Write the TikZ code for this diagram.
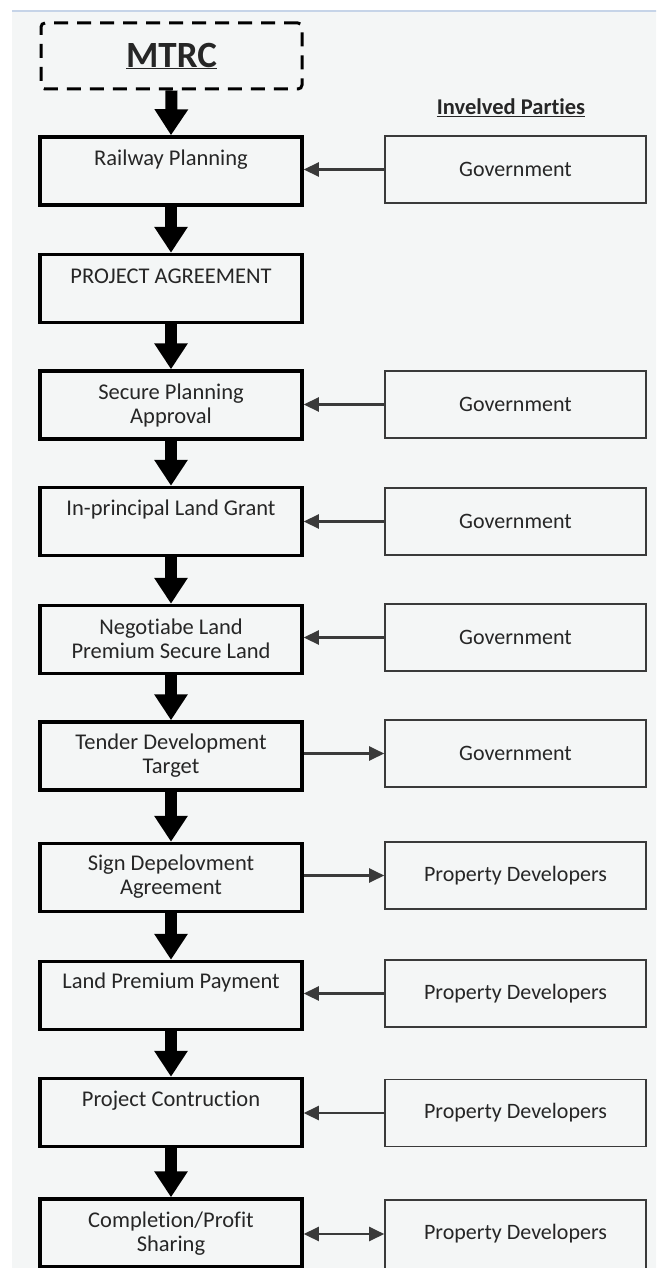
\documentclass[tikz,border=0pt]{standalone}
\usepackage{fontspec}
\setmainfont{Carlito}[Ligatures=NoCommon]
\usetikzlibrary{arrows.meta}
\definecolor{bgc}{HTML}{F4F6F6}
\definecolor{topline}{HTML}{C6D4E8}
\definecolor{txt}{HTML}{262626}
\definecolor{thin}{HTML}{3A3A3A}
\tikzset{
  stepbox/.style={draw=black, line width=3.5pt, minimum width=262pt, minimum height=68pt, inner sep=0pt, fill=bgc},
  partybox/.style={draw=thin, line width=1.6pt, minimum width=261pt, minimum height=67pt, inner sep=0pt, fill=bgc,
    font=\fontsize{22}{24}\selectfont, text=txt},
  steptext/.style={align=center, font=\fontsize{22.5}{24}\selectfont, text=txt, inner sep=0pt},
  bigarrow/.style={line width=12pt, -{Triangle[width=32pt,length=26pt]}},
  sidearrow/.style={draw=thin, line width=2.2pt, -{Triangle[width=14pt,length=15pt]}},
  sidearrowboth/.style={draw=thin, line width=2.2pt, {Triangle[width=14pt,length=15pt]}-{Triangle[width=14pt,length=15pt]}},
}
\begin{document}
\begin{tikzpicture}[x=1pt,y=-1pt]
\useasboundingbox (0,0) rectangle (656,1268);
\clip (0,0) rectangle (656,1268);
\fill[bgc] (12,11) rectangle (660,1272);
\draw[topline, line width=1.2pt] (12,11) -- (660,11);

% MTRC
\node[draw=black, line width=3pt, dash pattern=on 14pt off 9pt, rounded corners=4pt,
      minimum width=261pt, minimum height=66pt, inner sep=0pt,
      font=\bfseries\fontsize{37}{40}\selectfont, text=txt] (mtrc) at (171.5,56) {\underline{MTRC}};

\node[font=\bfseries\fontsize{22.5}{24}\selectfont, text=txt] (ip) at (511,108) {\underline{Invelved Parties}};

% left step boxes
\node[stepbox] (b1) at (171,171) {};
\node[stepbox] (b2) at (171,288.5) {};
\node[stepbox] (b3) at (171,405) {};
\node[stepbox] (b4) at (171,521.5) {};
\node[stepbox] (b5) at (171,639.5) {};
\node[stepbox] (b6) at (171,756) {};
\node[stepbox] (b7) at (171,877.5) {};
\node[stepbox] (b8) at (171,995.5) {};
\node[stepbox] (b9) at (171,1112.5) {};
\node[stepbox] (b10) at (171,1233) {};

% texts
\node[steptext] (t1) at ([yshift=-24pt]b1.north) {Railway Planning};
\node[steptext] (t2) at ([yshift=-24pt]b2.north) {PROJECT AGREEMENT};
\node[steptext] (t3) at ([yshift=-36pt]b3.north) {Secure Planning\\Approval};
\node[steptext] (t4) at ([yshift=-24pt]b4.north) {In-principal Land Grant};
\node[steptext] (t5) at ([yshift=-35pt]b5.north) {Negotiabe Land\\Premium Secure Land};
\node[steptext] (t6) at ([yshift=-35pt]b6.north) {Tender Development\\Target};
\node[steptext] (t7) at ([yshift=-35pt]b7.north) {Sign Depelovment\\Agreement};
\node[steptext] (t8) at ([yshift=-23pt]b8.north) {Land Premium Payment};
\node[steptext] (t9) at ([yshift=-24pt]b9.north) {Project Contruction};
\node[steptext] (t10) at ([yshift=-36pt]b10.north) {Completion/Profit\\Sharing};

% right party boxes
\node[partybox] (r1) at (515.5,169.5) {Government};
\node[partybox] (r3) at (515.5,404.5) {Government};
\node[partybox] (r4) at (515.5,521.5) {Government};
\node[partybox] (r5) at (515.5,637.5) {Government};
\node[partybox] (r6) at (515.5,753.5) {Government};
\node[partybox] (r7) at (515.5,875.5) {Property Developers};
\node[partybox] (r8) at (515.5,993.5) {Property Developers};
\node[partybox] (r9) at (515.5,1113) {Property Developers};
\node[partybox, minimum height=72pt] (r10) at (515.5,1236) {};
\node[font=\fontsize{22}{24}\selectfont, text=txt] (r10t) at (515.5,1234) {Property Developers};

% vertical flow arrows
\draw[bigarrow] (mtrc.south) -- (b1.north);
\draw[bigarrow] (b1.south) -- (b2.north);
\draw[bigarrow] (b2.south) -- (b3.north);
\draw[bigarrow] (b3.south) -- (b4.north);
\draw[bigarrow] (b4.south) -- (b5.north);
\draw[bigarrow] (b5.south) -- (b6.north);
\draw[bigarrow] (b6.south) -- (b7.north);
\draw[bigarrow] (b7.south) -- (b8.north);
\draw[bigarrow] (b8.south) -- (b9.north);
\draw[bigarrow] (b9.south) -- (b10.north);

% side arrows
\draw[sidearrow] (r1.west) -- (r1.west -| b1.east);
\draw[sidearrow] (r3.west) -- (r3.west -| b3.east);
\draw[sidearrow] (r4.west) -- (r4.west -| b4.east);
\draw[sidearrow] (r5.west) -- (r5.west -| b5.east);
\draw[sidearrow] (r6.west -| b6.east) -- (r6.west);
\draw[sidearrow] (r7.west -| b7.east) -- (r7.west);
\draw[sidearrow] (r8.west) -- (r8.west -| b8.east);
\draw[sidearrow] (r9.west) -- (r9.west -| b9.east);
\draw[sidearrowboth] (r10t.west -| b10.east) -- (r10t.west -| r10.west);
\end{tikzpicture}
\end{document}
